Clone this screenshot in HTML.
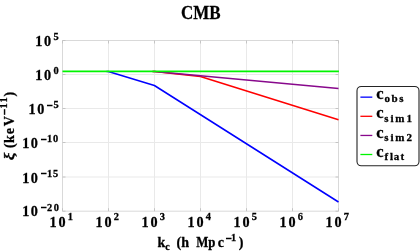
<!DOCTYPE html>
<html><head><meta charset="utf-8">
<style>
html,body{margin:0;padding:0;background:#fff;}
body{width:420px;height:252px;overflow:hidden;}
svg{display:block;will-change:transform;}
text{font-family:"Liberation Serif",serif;font-weight:bold;fill:#000;stroke:#000;stroke-width:0.28px;}
.t{font-size:14.2px;}
.e{font-size:10.4px;}
.l{font-size:16.5px;}
.s{font-size:11px;}
</style></head><body>
<svg width="420" height="252" viewBox="0 0 420 252">
<rect width="420" height="252" fill="#fff"/>
<g stroke="#e9e9e9" stroke-width="1" fill="none">
<path d="M108.5 40.5V211.2M154.5 40.5V211.2M200.5 40.5V211.2M246.5 40.5V211.2M292.5 40.5V211.2"/>
<path d="M62.5 74.5H338.5M62.5 108.5H338.5M62.5 142.5H338.5M62.5 177.0H338.5"/>
</g>
<path d="M62.5 40.5H338.5V211.2H62.5Z" fill="none" stroke="#d9d9d9" stroke-width="1"/>
<g stroke="#c4c4c4" stroke-width="1" fill="none">
<path d="M62.5 40.5h3M338.5 40.5h-3M62.5 74.5h3M338.5 74.5h-3M62.5 108.5h3M338.5 108.5h-3M62.5 142.5h3M338.5 142.5h-3M62.5 177.0h3M338.5 177.0h-3M62.5 211.2h3M338.5 211.2h-3M62.5 211.2v-3M62.5 40.5v3M108.5 211.2v-3M108.5 40.5v3M154.5 211.2v-3M154.5 40.5v3M200.5 211.2v-3M200.5 40.5v3M246.5 211.2v-3M246.5 40.5v3M292.5 211.2v-3M292.5 40.5v3M338.5 211.2v-3M338.5 40.5v3"/>
</g>
<g fill="none" stroke-width="1.5" stroke-linejoin="round">
<polyline stroke="#0000ff" points="106.5,71.5 108.3,71.5 154.4,85.5 338.5,202"/>
<polyline stroke="#ff0000" points="152.5,71.5 154.4,71.5 200.4,76.5 338.5,119.7"/>
<polyline stroke="#88088c" points="152.5,71.5 154.4,71.5 338.5,88.6"/>
<polyline stroke="#00f400" stroke-width="1.7" points="62.5,71.4 338.9,71.4"/>
</g>
<text transform="translate(200.9 19) scale(0.87 1)" x="0" y="0" font-size="19.5" text-anchor="middle" stroke="#000" stroke-width="0.45">CMB</text>
<text class="t" x="35.2 44.0" y="46.0">10</text><text class="e" x="53.6" y="40.3">5</text>
<text class="t" x="35.2 44.0" y="80.0">10</text><text class="e" x="53.6" y="74.3">0</text>
<text class="t" x="28.5 37.3" y="114.0">10</text><text class="e" x="47.1 53.4" y="108.3"><tspan dy="0.6" stroke-width="0.7">−</tspan><tspan dy="-0.6">5</tspan></text>
<text class="t" x="22.2 30.8" y="148.0">10</text><text class="e" x="40.9 47.0 52.9" y="142.3"><tspan dy="0.6" stroke-width="0.7">−</tspan><tspan dy="-0.6">10</tspan></text>
<text class="t" x="22.2 30.8" y="182.5">10</text><text class="e" x="40.9 47.0 53.1" y="176.8"><tspan dy="0.6" stroke-width="0.7">−</tspan><tspan dy="-0.6">15</tspan></text>
<text class="t" x="22.2 30.8" y="216.4">10</text><text class="e" x="40.9 46.9 53.8" y="210.7"><tspan dy="0.6" stroke-width="0.7">−</tspan><tspan dy="-0.6">20</tspan></text>
<text class="t" x="49.5 58.5" y="226.6">10</text><text class="e" x="67.7" y="220.4">1</text>
<text class="t" x="95.5 104.5" y="226.6">10</text><text class="e" x="113.7" y="220.4">2</text>
<text class="t" x="141.5 150.5" y="226.6">10</text><text class="e" x="159.7" y="220.4">3</text>
<text class="t" x="187.5 196.5" y="226.6">10</text><text class="e" x="205.7" y="220.4">4</text>
<text class="t" x="233.5 242.5" y="226.6">10</text><text class="e" x="251.7" y="220.4">5</text>
<text class="t" x="279.5 288.5" y="226.6">10</text><text class="e" x="297.7" y="220.4">6</text>
<text class="t" x="325.5 334.5" y="226.6">10</text><text class="e" x="343.7" y="220.4">7</text>
<g id="xl">
<text x="157.5" y="247" font-size="14">k</text>
<text x="165.2" y="250" font-size="10">c</text>
<text x="176.6" y="247" font-size="14">(h</text>
<text x="196.2" y="247" font-size="14" textLength="19.2" lengthAdjust="spacingAndGlyphs">Mp</text>
<text x="217.8" y="247" font-size="14">c</text>
<text x="226.0 231.1" y="241.2" font-size="10.4"><tspan dy="0.6" stroke-width="0.7">−</tspan><tspan dy="-0.6">1</tspan></text>
<text x="238.8" y="247" font-size="14">)</text>
</g>
<g id="yl" transform="translate(14 158) rotate(-90)">
<text transform="translate(-2.2 0) scale(1.18 1)" x="0" y="0" font-size="14.5" font-style="italic" stroke-width="0.1">ξ</text>
<text x="9.9 14.9 23.8 31.8" y="0" font-size="14">(keV</text>
<text x="43.3 49.6 55.6" y="-7.1" font-size="10.4"><tspan dy="0.6" stroke-width="0.7">−</tspan><tspan dy="-0.6">11</tspan></text>
<text x="61.6" y="0" font-size="14">)</text>
</g>
<rect x="357" y="86.5" width="62" height="79.3" rx="4.2" ry="4.2" fill="#fff" stroke="#242424" stroke-width="1.1"/>
<g stroke-width="1.3" fill="none">
<path d="M360.4 97.15H372.3" stroke="#0000ff"/>
<path d="M360.4 116.30H372.3" stroke="#ff0000"/>
<path d="M360.4 135.45H372.3" stroke="#88088c"/>
<path d="M360.4 154.50H372.3" stroke="#00f400"/>
</g>
<text class="l" x="376.3" y="99.2">c</text><text class="s" x="384.5 391.4 399.3" y="102.4">obs</text>
<text class="l" x="376.3" y="118.4">c</text><text class="s" x="384.3 390.4 395.2 406.5" y="121.5">sim1</text>
<text class="l" x="376.3" y="137.5">c</text><text class="s" x="384.3 390.4 395.2 406.6" y="140.6">sim2</text>
<text class="l" x="376.3" y="156.6">c</text><text class="s" x="384.6 389.9 393.8 400.5" y="159.7">flat</text>
</svg>
</body></html>
